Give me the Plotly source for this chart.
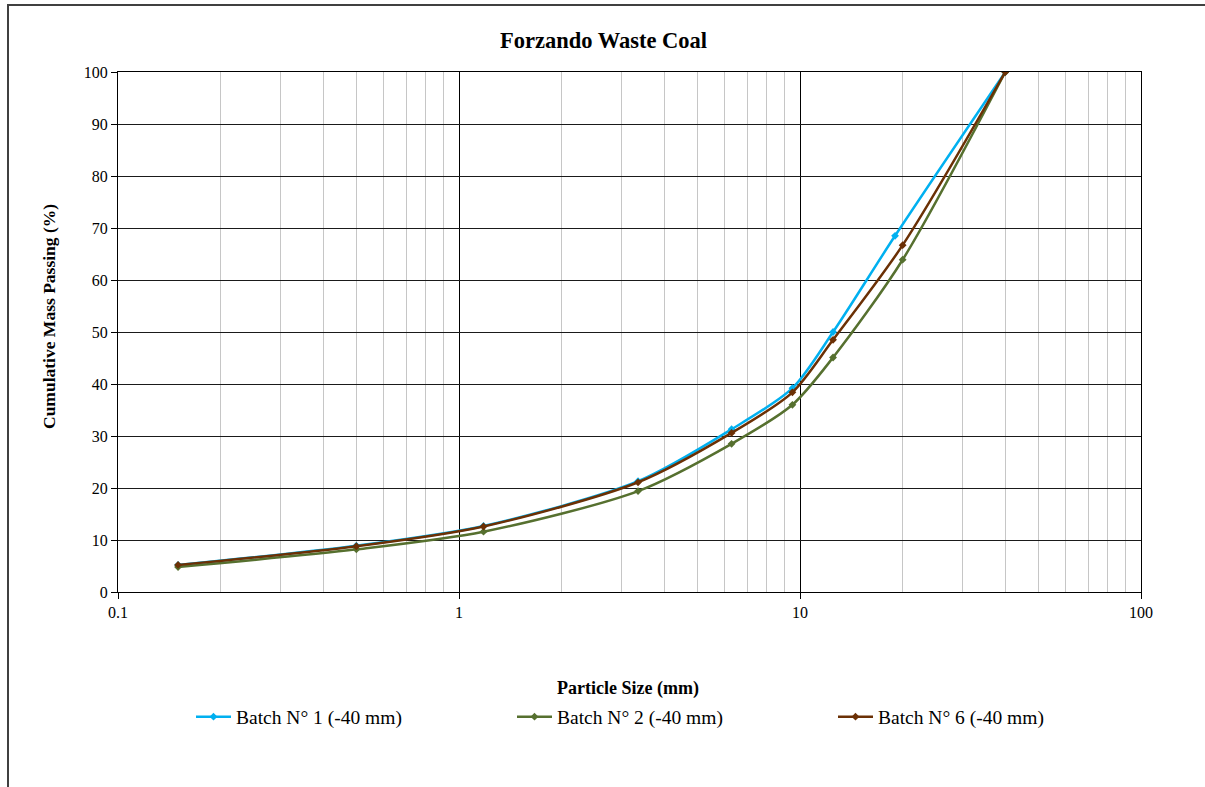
import plotly.graph_objects as go

sizes_b1 = [0.15, 0.5, 1.18, 3.35, 6.3, 9.5, 12.5, 19, 40]
sizes_b2 = [0.15, 0.5, 1.18, 3.35, 6.3, 9.5, 12.5, 20, 40]
sizes_b6 = [0.15, 0.5, 1.18, 3.35, 6.3, 9.5, 12.5, 20, 40]
batch1 = [5.2, 8.9, 12.7, 21.3, 31.3, 39.2, 50.0, 68.5, 100]
batch2 = [4.8, 8.2, 11.6, 19.4, 28.5, 36.0, 45.1, 63.9, 100]
batch6 = [5.2, 8.8, 12.6, 21.1, 30.6, 38.4, 48.5, 66.7, 100]
names = ["Batch N° 1 (-40 mm)", "Batch N° 2 (-40 mm)", "Batch N° 6 (-40 mm)"]
colors = ["#00B0F0", "#56702F", "#6B3005"]
x_ticks = [0.1, 1, 10, 100]
y_ticks = list(range(0, 101, 10))

FONT = "Liberation Serif, Times New Roman, serif"

fig = go.Figure()
for xs, ys, nm, c in [(sizes_b1, batch1, names[0], colors[0]),
                      (sizes_b2, batch2, names[1], colors[1]),
                      (sizes_b6, batch6, names[2], colors[2])]:
    fig.add_trace(go.Scatter(
        x=xs, y=ys, name=nm, mode="lines+markers",
        line=dict(color=c, width=2.5, shape="spline", smoothing=0.8),
        marker=dict(symbol="diamond", size=6, color=c),
    ))

W, H = 1205, 787
L, R, T, B = 118, 1141, 72, 592
pw, ph = R - L, B - T

def px_x(X):
    return (X - L) / pw

def px_y(Y):
    return (B - Y) / ph

fig.update_layout(
    width=W, height=H,
    margin=dict(l=L, r=W - R, t=T, b=H - B, pad=0),
    paper_bgcolor="white", plot_bgcolor="white",
    font=dict(family=FONT, size=16, color="black"),
    showlegend=True,
    legend=dict(orientation="h", x=px_x(191), xanchor="left", y=px_y(717), yanchor="middle",
                font=dict(family=FONT, size=19.5, color="black"),
                entrywidth=271, entrywidthmode="pixels", itemwidth=35,
                bgcolor="rgba(0,0,0,0)"),
    xaxis=dict(
        type="log", range=[-1, 2],
        tickvals=x_ticks, ticktext=[str(v) for v in x_ticks],
        showgrid=True, gridcolor="black", gridwidth=1,
        ticks="outside", ticklen=6, tickcolor="black",
        showline=True, linecolor="black", linewidth=1, mirror=True,
        zeroline=False,
        tickfont=dict(family=FONT, size=16),
        minor=dict(dtick="D1", showgrid=True, gridcolor="#c6c6c6", gridwidth=1, ticks=""),
    ),
    yaxis=dict(
        range=[0, 100], tickvals=y_ticks,
        showgrid=True, gridcolor="#1a1a1a", gridwidth=1,
        ticks="outside", ticklen=6, tickcolor="black",
        showline=True, linecolor="black", linewidth=1, mirror=True,
        zeroline=False,
        tickfont=dict(family=FONT, size=16),
    ),
    annotations=[
        dict(text="<b>Forzando Waste Coal</b>", x=px_x(603), y=px_y(40), xref="paper", yref="paper",
             showarrow=False, font=dict(family=FONT, size=22.5, color="black"), xanchor="center", yanchor="middle"),
        dict(text="<b>Particle Size (mm)</b>", x=px_x(628), y=px_y(688), xref="paper", yref="paper",
             showarrow=False, font=dict(family=FONT, size=18, color="black"), xanchor="center", yanchor="middle"),
        dict(text="<b>Cumulative Mass Passing (%)</b>", x=px_x(49), y=px_y(317), xref="paper", yref="paper",
             showarrow=False, textangle=-90, font=dict(family=FONT, size=17.5, color="black"),
             xanchor="center", yanchor="middle"),
    ],
    shapes=[
        dict(type="rect", xref="paper", yref="paper",
             x0=px_x(8), x1=px_x(1215), y0=px_y(800), y1=px_y(5),
             line=dict(color="#404040", width=2), fillcolor="rgba(0,0,0,0)", layer="below"),
    ],
)

fig.write_html("out.html")
